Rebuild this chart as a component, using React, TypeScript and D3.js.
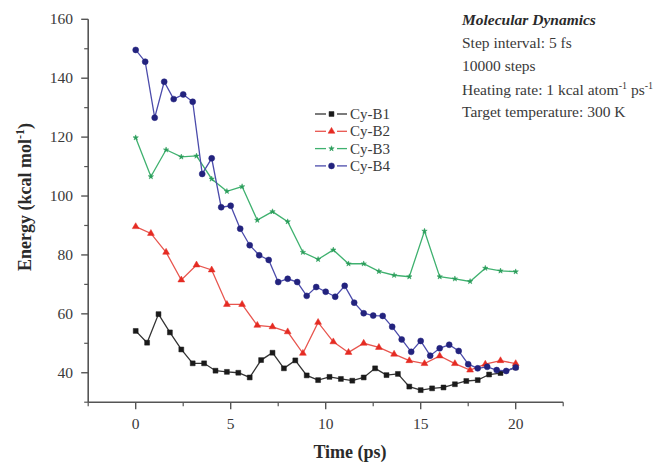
import React from "react";
import * as d3 from "d3";

const seriesNames = ["Cy-B1", "Cy-B2", "Cy-B3", "Cy-B4"];

const timeB1 = [0, 0.6, 1.2, 1.8, 2.4, 3.0, 3.6, 4.2, 4.8, 5.4, 6.0, 6.6, 7.2, 7.8, 8.4, 9.0, 9.6, 10.2, 10.8, 11.4, 12.0, 12.6, 13.2, 13.8, 14.4, 15.0, 15.6, 16.2, 16.8, 17.4, 18.0, 18.6, 19.2, 20.0];
const energyB1 = [54.2, 50.2, 59.9, 53.7, 47.9, 43.2, 43.2, 40.7, 40.3, 40.0, 38.4, 44.3, 46.8, 41.5, 44.2, 39.1, 37.5, 38.6, 37.9, 37.3, 38.4, 41.5, 39.2, 39.6, 35.3, 34.1, 34.7, 35.0, 36.1, 37.2, 37.5, 39.4, 39.9, 41.8];

const timeB2 = [0, 0.8, 1.6, 2.4, 3.2, 4.0, 4.8, 5.6, 6.4, 7.2, 8.0, 8.8, 9.6, 10.4, 11.2, 12.0, 12.8, 13.6, 14.4, 15.2, 16.0, 16.8, 17.6, 18.4, 19.2, 20.0];
const energyB2 = [89.6, 87.3, 80.9, 71.5, 76.6, 74.9, 63.2, 63.2, 56.1, 55.6, 53.9, 46.6, 57.1, 50.5, 46.9, 50.0, 48.6, 46.3, 44.1, 43.1, 45.7, 43.1, 40.9, 42.9, 44.1, 43.1];

const timeB3 = timeB2;
const energyB3 = [119.8, 106.6, 115.7, 113.3, 113.6, 105.8, 101.6, 103.2, 91.8, 94.7, 91.3, 80.9, 78.5, 81.7, 77.0, 77.0, 74.4, 73.1, 72.6, 88.1, 72.6, 71.9, 71.0, 75.5, 74.6, 74.3];

const timeB4 = [0, 0.5, 1, 1.5, 2, 2.5, 3, 3.5, 4, 4.5, 5, 5.5, 6, 6.5, 7, 7.5, 8, 8.5, 9, 9.5, 10, 10.5, 11, 11.5, 12, 12.5, 13, 13.5, 14, 14.5, 15, 15.5, 16, 16.5, 17, 17.5, 18, 18.5, 19, 19.5, 20];
const energyB4 = [149.6, 145.6, 126.6, 138.8, 132.9, 134.5, 132.0, 107.5, 112.8, 96.2, 96.7, 88.9, 83.3, 79.9, 78.3, 70.8, 71.9, 70.8, 66.1, 69.1, 67.5, 65.8, 69.5, 63.8, 60.2, 59.4, 59.3, 55.6, 51.3, 47.1, 50.8, 45.8, 48.3, 49.5, 47.4, 42.9, 41.5, 42.0, 40.9, 40.6, 41.8];

const xTicks = [0, 5, 10, 15, 20];
const yTicks = [40, 60, 80, 100, 120, 140, 160];

const infoLines = ["Step interval: 5 fs", "10000 steps"];

const series = [
  { name: seriesNames[0], t: timeB1, e: energyB1, line: "#333333", fill: "#1a1a1a", sym: d3.symbolSquare, size: 24 },
  { name: seriesNames[1], t: timeB2, e: energyB2, line: "#e8554e", fill: "#e52b22", sym: d3.symbolTriangle, size: 20 },
  { name: seriesNames[2], t: timeB3, e: energyB3, line: "#3fb16f", fill: "#2a9d5a", sym: d3.symbolStar, size: 9 },
  { name: seriesNames[3], t: timeB4, e: energyB4, line: "#4b4bab", fill: "#23237e", sym: d3.symbolCircle, size: 28 },
];

export default function App() {
  const x = d3.scaleLinear().domain([-2.5, 22.5]).range([88.2, 563.2]);
  const y = d3.scaleLinear().domain([30, 160]).range([402.2, 19.3]);
  const axisColor = "#555";
  const textColor = "#3a3a3a";
  const font = "'Liberation Serif', 'Times New Roman', serif";

  const xMinor = d3.range(-2.5, 22.6, 2.5).filter((v) => !xTicks.includes(v));
  const yMinor = d3.range(30, 161, 10).filter((v) => !yTicks.includes(v));

  return (
    <svg width={664} height={464} style={{ position: "absolute", left: 0, top: 0, background: "#fff" }} fontFamily={font}>
      <line x1={x(-2.5)} x2={x(22.5)} y1={y(30)} y2={y(30)} stroke={axisColor} strokeWidth={1.6} />
      <line x1={x(-2.5)} x2={x(-2.5)} y1={y(30)} y2={y(160)} stroke={axisColor} strokeWidth={1.6} />
      {xTicks.map((v) => (
        <g key={"xt" + v}>
          <line x1={x(v)} x2={x(v)} y1={y(30)} y2={y(30) + 7} stroke={axisColor} strokeWidth={1.4} />
          <text x={x(v)} y={429} textAnchor="middle" fontSize={15.5} fill={textColor}>{v}</text>
        </g>
      ))}
      {xMinor.map((v) => (
        <line key={"xm" + v} x1={x(v)} x2={x(v)} y1={y(30)} y2={y(30) + 4} stroke={axisColor} strokeWidth={1.2} />
      ))}
      {yTicks.map((v) => (
        <g key={"yt" + v}>
          <line x1={x(-2.5) - 7} x2={x(-2.5)} y1={y(v)} y2={y(v)} stroke={axisColor} strokeWidth={1.4} />
          <text x={73} y={y(v) + 5} textAnchor="end" fontSize={15.5} fill={textColor}>{v}</text>
        </g>
      ))}
      {yMinor.map((v) => (
        <line key={"ym" + v} x1={x(-2.5) - 4} x2={x(-2.5)} y1={y(v)} y2={y(v)} stroke={axisColor} strokeWidth={1.2} />
      ))}

      <text x={350} y={458} textAnchor="middle" fontSize={18} fontWeight="bold" fill="#2a2a2a">Time (ps)</text>
      <text transform="translate(31,197) rotate(-90)" textAnchor="middle" fontSize={18} fontWeight="bold" fill="#2a2a2a">
        Energy (kcal mol<tspan fontSize={12} dy={-7}>-1</tspan><tspan dy={7}>)</tspan>
      </text>

      {series.map((s) => {
        const pts: [number, number][] = s.t.map((t, i) => [x(t), y(s.e[i])]);
        const path = d3.line()(pts) || "";
        const sym = d3.symbol().type(s.sym).size(s.size)() || "";
        return (
          <g key={s.name}>
            <path d={path} fill="none" stroke={s.line} strokeWidth={1.3} />
            {pts.map((p, i) => (
              <path key={i} d={sym} transform={`translate(${p[0]},${p[1]})`} fill={s.fill} stroke={s.fill} strokeWidth={0.5} />
            ))}
          </g>
        );
      })}

      {series.map((s, i) => {
        const ly = 114 + i * 17.3;
        const sym = d3.symbol().type(s.sym).size(s.size)() || "";
        return (
          <g key={"lg" + s.name}>
            <line x1={315} x2={326} y1={ly} y2={ly} stroke={s.line} strokeWidth={1.3} />
            <line x1={337} x2={347} y1={ly} y2={ly} stroke={s.line} strokeWidth={1.3} />
            <path d={sym} transform={`translate(331.5,${ly})`} fill={s.fill} stroke={s.fill} strokeWidth={0.5} />
            <text x={350} y={ly + 5} fontSize={15} fill={textColor}>{s.name}</text>
          </g>
        );
      })}

      <text x={462} y={25} fontSize={15.5} fontWeight="bold" fontStyle="italic" fill="#2a2a2a">Molecular Dynamics</text>
      {infoLines.map((l, i) => (
        <text key={l} x={462} y={48 + i * 23} fontSize={15.5} fill={textColor}>{l}</text>
      ))}
      <text x={462} y={94.5} fontSize={15.5} fill={textColor}>
        Heating rate: 1 kcal atom<tspan fontSize={10} dy={-6}>-1</tspan><tspan dy={6}> ps</tspan><tspan fontSize={10} dy={-6}>-1</tspan>
      </text>
      <text x={462} y={117} fontSize={15.5} fill={textColor}>Target temperature: 300 K</text>
    </svg>
  );
}
